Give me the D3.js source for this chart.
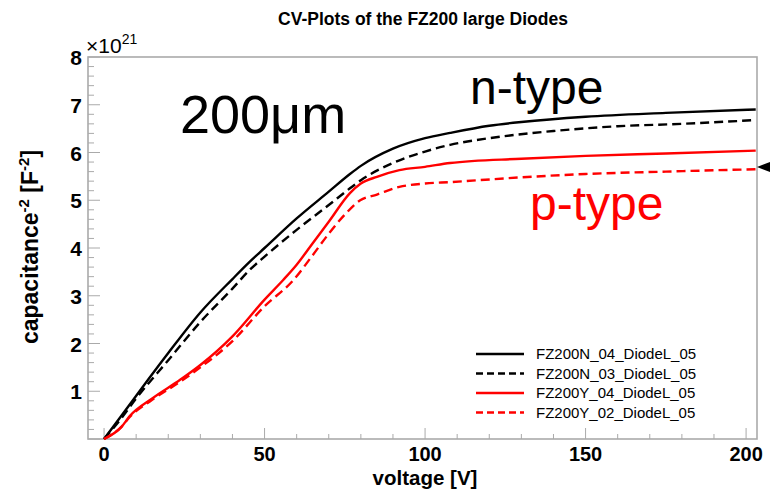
<!DOCTYPE html>
<html><head><meta charset="utf-8">
<script src="https://cdn.jsdelivr.net/npm/d3@7"></script>
<style>body{margin:0;background:#fff}svg{display:block}</style>
</head><body><svg id="c" width="770" height="491"></svg>
<script>
const titleText = "CV-Plots of the FZ200 large Diodes";
const xTickLabels = [0, 50, 100, 150, 200];
const yTickLabels = [1, 2, 3, 4, 5, 6, 7, 8];
const seriesNames = ["FZ200N_04_DiodeL_05","FZ200N_03_DiodeL_05","FZ200Y_04_DiodeL_05","FZ200Y_02_DiodeL_05"];
const seriesColors = ["#000","#000","#ff0000","#ff0000"];
const seriesDashed = [false,true,false,true];
const vN04 = [0,5,13.7,20,30,40,45.5,50,60,70,76.6,80,90,100,107.8,120,130,150,175,203];
const cN04 = [0,0.45,1.24,1.8,2.65,3.35,3.72,4.0,4.62,5.18,5.55,5.72,6.08,6.3,6.41,6.56,6.64,6.75,6.83,6.9];
const vN03 = [0,5,10,20,30,40,45.5,50,60,70,76.6,80,90,100,107.8,120,140,160,180,203];
const cN03 = [0,0.4,0.85,1.65,2.45,3.15,3.55,3.82,4.38,4.9,5.25,5.42,5.78,6.02,6.16,6.3,6.45,6.55,6.6,6.68];
const vY04 = [0,5.5,8,15,23.7,30,40,50,55.8,60,65,70,76.6,80,85,92,100,107.8,130,150,175,203];
const cY04 = [0,0.26,0.48,0.85,1.24,1.55,2.15,2.92,3.33,3.65,4.1,4.55,5.15,5.35,5.49,5.63,5.7,5.78,5.87,5.93,5.98,6.04];
const vY02 = [0,5.5,8,15,23.7,30,40,50,59,65,70,75,79.8,85,92,100,107.8,130,150,175,203];
const cY02 = [0,0.26,0.46,0.82,1.2,1.5,2.05,2.78,3.33,3.85,4.3,4.7,5.0,5.12,5.28,5.35,5.38,5.48,5.55,5.6,5.65];
const seriesV = [vN04, vN03, vY04, vY02];
const seriesC = [cN04, cN03, cY04, cY02];

const svg = d3.select("#c");
const x = d3.scaleLinear().domain([-5, 203.4]).range([88, 757]);
const y = d3.scaleLinear().domain([0, 8]).range([439, 57]);
const F = "'Liberation Sans', Arial, sans-serif";

// title
svg.append("text").attr("x", 423).attr("y", 25).attr("text-anchor","middle")
  .attr("font-family", F).attr("font-weight","bold").attr("font-size", 17.5).text(titleText);

// frame
svg.append("rect").attr("x", 88).attr("y", 57).attr("width", 669).attr("height", 382)
  .attr("fill","none").attr("stroke","#aaaaaa").attr("stroke-width",1.6);

// y ticks
const yMinor = d3.range(0, 8.001, 0.2);
svg.append("g").selectAll("line").data(yMinor).join("line")
  .attr("x1", 88).attr("x2", d => Math.abs(d - Math.round(d)) < 1e-6 ? 100 : 94)
  .attr("y1", d => y(d)).attr("y2", d => y(d)).attr("stroke","#aaaaaa").attr("stroke-width",1);
svg.append("g").selectAll("text").data(yTickLabels).join("text")
  .attr("x", 82).attr("y", d => y(d) + 8).attr("text-anchor","end")
  .attr("font-family", F).attr("font-weight","bold").attr("font-size", 21).text(d => d);
// x ticks
const xMinor = d3.range(0, 201, 10);
svg.append("g").selectAll("line").data(xMinor).join("line")
  .attr("x1", d => x(d)).attr("x2", d => x(d))
  .attr("y1", 439).attr("y2", d => d % 50 === 0 ? 428 : 434).attr("stroke","#aaaaaa").attr("stroke-width",1);
svg.append("g").selectAll("text").data(xTickLabels).join("text")
  .attr("x", d => x(d)).attr("y", 461).attr("text-anchor","middle")
  .attr("font-family", F).attr("font-weight","bold").attr("font-size", 20).text(d => d);

// exponent
const ex = svg.append("text").attr("x", 86).attr("y", 53).attr("font-family", F).attr("font-size", 21);
ex.append("tspan").text("×10");
ex.append("tspan").attr("dy", -9).attr("font-size", 14).text("21");

// axis titles
svg.append("text").attr("x", 425).attr("y", 485).attr("text-anchor","middle")
  .attr("font-family", F).attr("font-weight","bold").attr("font-size", 20.5).text("voltage [V]");
const yl = svg.append("text").attr("transform","translate(38,247) rotate(-90)").attr("text-anchor","middle")
  .attr("font-family", F).attr("font-weight","bold").attr("font-size", 23);
yl.append("tspan").text("capacitance");
yl.append("tspan").attr("dy", -9).attr("font-size", 15).text("-2");
yl.append("tspan").attr("dy", 9).text(" [F");
yl.append("tspan").attr("dy", -9).attr("font-size", 15).text("-2");
yl.append("tspan").attr("dy", 9).text("]");

// curves
const line = d3.line().x(d => x(d[0])).y(d => y(d[1])).curve(d3.curveMonotoneX);
seriesV.forEach((vs, i) => {
  const pts = vs.map((v, j) => [v, seriesC[i][j]]);
  svg.append("path").attr("d", line(pts)).attr("fill","none")
    .attr("stroke", seriesColors[i]).attr("stroke-width", 2.4)
    .attr("stroke-dasharray", seriesDashed[i] ? "9,5" : null);
});

// marker arrow on right
svg.append("path").attr("d", "M757,167 L770,162 L770,172 Z").attr("fill","#000");

// annotations
svg.append("text").attr("x", 180).attr("y", 133).attr("font-family", F).attr("font-size", 54).text("200μm");
svg.append("text").attr("x", 470).attr("y", 104).attr("font-family", F).attr("font-size", 48).text("n-type");
svg.append("text").attr("x", 530).attr("y", 220).attr("font-family", F).attr("font-size", 48).attr("fill","#ff0000").text("p-type");

// legend
const lg = svg.append("g");
seriesNames.forEach((n, i) => {
  const yy = 354 + i * 19.5;
  lg.append("line").attr("x1", 476).attr("x2", 524).attr("y1", yy).attr("y2", yy)
    .attr("stroke", seriesColors[i]).attr("stroke-width", 2.4)
    .attr("stroke-dasharray", seriesDashed[i] ? "7,4" : null);
  lg.append("text").attr("x", 536).attr("y", yy + 5).attr("font-family", F).attr("font-size", 15).text(n);
});
</script></body></html>
